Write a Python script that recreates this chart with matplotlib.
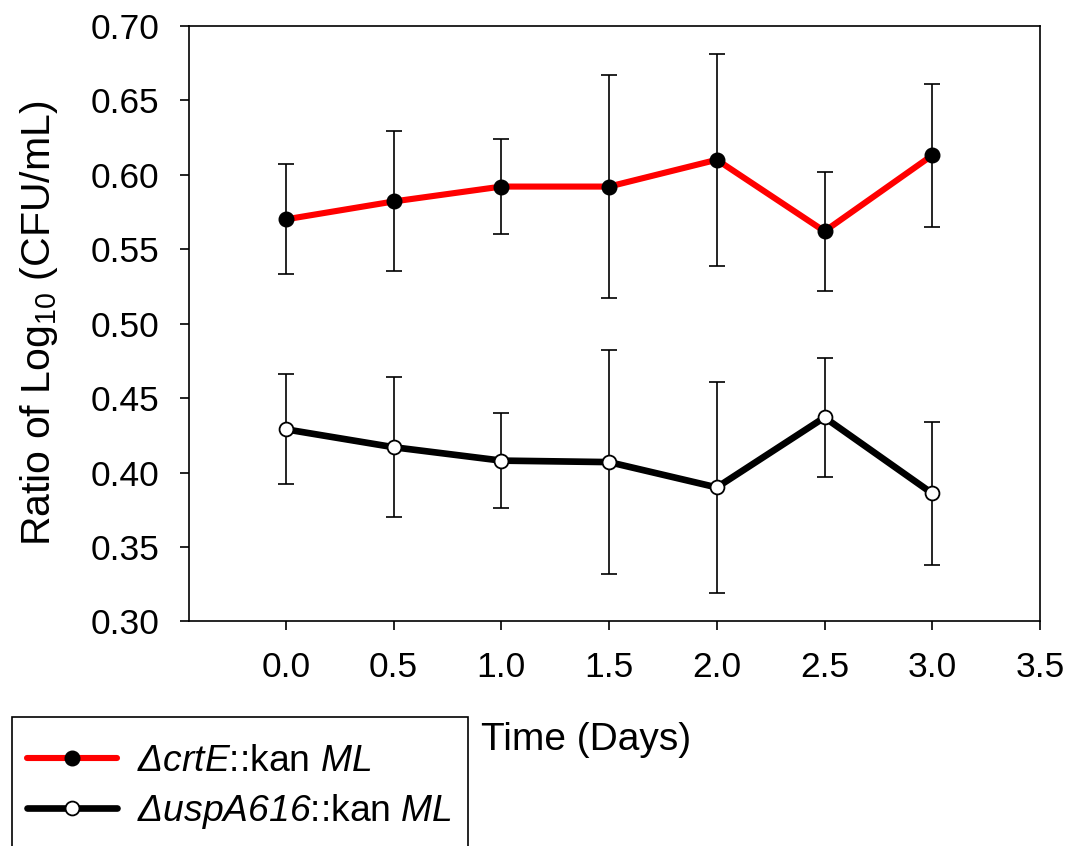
import numpy as np
import matplotlib
matplotlib.use("Agg")
import matplotlib.pyplot as plt
from matplotlib.patches import Rectangle

plt.rcParams['font.family'] = ['Liberation Sans', 'DejaVu Sans']
plt.rcParams['mathtext.fontset'] = 'custom'
plt.rcParams['mathtext.rm'] = 'Liberation Sans'
plt.rcParams['mathtext.it'] = 'Liberation Sans:italic'
plt.rcParams['mathtext.sf'] = 'Liberation Sans:italic'

days = [0.0, 0.5, 1.0, 1.5, 2.0, 2.5, 3.0]
crtE = [0.570, 0.582, 0.592, 0.592, 0.610, 0.562, 0.613]
uspA = [0.429, 0.417, 0.408, 0.407, 0.390, 0.437, 0.386]
err = [0.037, 0.047, 0.032, 0.075, 0.071, 0.040, 0.048]

xticks = [0.0, 0.5, 1.0, 1.5, 2.0, 2.5, 3.0, 3.5]
yticks = [0.30, 0.35, 0.40, 0.45, 0.50, 0.55, 0.60, 0.65, 0.70]

fig = plt.figure(figsize=(10.75, 8.46), dpi=100)
ax = fig.add_axes([0.1758, 0.2654, 0.7916, 0.7042])

# error bars under the lines
ax.errorbar(days, crtE, yerr=err, fmt='none', ecolor='black',
            elinewidth=1.2, capsize=6, capthick=1.2, zorder=2)
ax.errorbar(days, uspA, yerr=err, fmt='none', ecolor='black',
            elinewidth=1.2, capsize=6, capthick=1.2, zorder=2)

l1, = ax.plot(days, crtE, color='red', lw=4.4, marker='o', ms=10.5,
              mfc='black', mec='black', zorder=3, solid_capstyle='round')
l2, = ax.plot(days, uspA, color='black', lw=4.8, marker='o', ms=10,
              mfc='white', mec='black', mew=1.3, zorder=3, solid_capstyle='round')

ax.set_xlim(-0.45, 3.5)
ax.set_ylim(0.30, 0.70)
ax.set_xticks(xticks)
ax.set_xticklabels([f"{t:.1f}" for t in xticks])
ax.set_yticks(yticks)
ax.set_yticklabels([f"{t:.2f}" for t in yticks])

for s in ax.spines.values():
    s.set_linewidth(1.2)
ax.tick_params(direction='out', length=6.5, width=1.2, labelsize=25.5, pad=15)

ax.set_xlabel("Time (Days)", fontsize=28, labelpad=27, x=0.4665)
ax.set_ylabel("Ratio of Log$_{10}$ (CFU/mL)", fontsize=29.5, labelpad=22)

# legend box runs off the bottom of the figure, like the original
fig.patches.append(Rectangle((11.7 / 1075, -0.05), (468 - 11.7) / 1075,
                             0.05 + (846 - 716.7) / 846,
                             transform=fig.transFigure, fill=False,
                             edgecolor='black', linewidth=1.2))

leg = fig.legend([l1, l2],
                 [r"$\mathsf{\Delta crtE}$::kan $\mathsf{ML}$",
                  r"$\mathsf{\Delta uspA616}$::kan $\mathsf{ML}$"],
                 loc='upper left', bbox_to_anchor=(27 / 1075, 1 - 744 / 846),
                 bbox_transform=fig.transFigure, fontsize=26.8, numpoints=1,
                 frameon=False, handlelength=2.42, handletextpad=0.54,
                 borderpad=0, labelspacing=0.35, borderaxespad=0)

fig.savefig("out.png", dpi=100)
